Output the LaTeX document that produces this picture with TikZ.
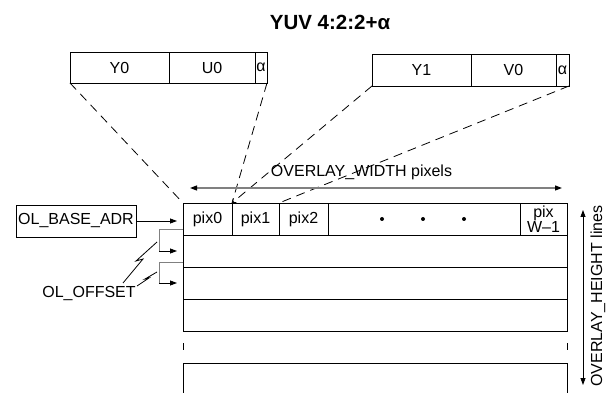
\documentclass[tikz,border=0pt]{standalone}
\usepackage{fontspec}
\setmainfont{Liberation Sans}
\usetikzlibrary{arrows.meta,positioning}

\begin{document}
\begin{tikzpicture}[x=1pt, y=-1pt,
    cell/.style={draw, line width=0.8pt, inner sep=0pt, outer sep=0pt,
                 minimum height=32pt, font=\fontsize{16}{14}\selectfont},
    lbl/.style={inner sep=0pt, font=\fontsize{16}{14}\selectfont},
    ln/.style={line width=0.8pt},
    map/.style={line width=0.8pt, dash pattern=on 9pt off 6pt},
    arr/.style={line width=0.8pt, -{Triangle[length=7pt,width=5pt]}},
    dim/.style={line width=1.2pt, gray,
                {Triangle[length=7pt,width=5pt,color=black]}-{Triangle[length=7pt,width=5pt,color=black]}},
  ]
  \useasboundingbox (0,0) rectangle (606,393);

  %% Title
  \node[font=\fontsize{20.5}{22}\selectfont\bfseries] (title) at (330,22) {YUV 4:2:2+α};

  %% Word Y0 U0 alpha
  \node[cell, minimum width=99pt, minimum height=31pt] (y0) at (119.5,67.5) {Y0};
  \node[cell, minimum width=86pt, minimum height=31pt, right=0pt of y0] (u0) {U0};
  \node[cell, minimum width=12pt, minimum height=31pt, right=0pt of u0] (a0) {α};

  %% Word Y1 V0 alpha
  \node[cell, minimum width=99pt] (y1) at (421.5,70) {Y1};
  \node[cell, minimum width=85pt, right=0pt of y1] (v0) {V0};
  \node[cell, minimum width=13pt, right=0pt of v0] (a1) {α};

  %% First line of pixels
  \node[cell, minimum width=49pt] (pix0) at (207.5,219) {pix0};
  \node[cell, minimum width=47pt, right=0pt of pix0] (pix1) {pix1};
  \node[cell, minimum width=49pt, right=0pt of pix1] (pix2) {pix2};
  \node[cell, minimum width=192pt, right=0pt of pix2] (dots) {};
  \node[cell, minimum width=47pt, right=0pt of dots, align=center] (pixw) {pix\\W–1};
  \fill ([xshift=-42pt]dots.center) circle (2pt);
  \fill ([xshift=-1pt]dots.center) circle (2pt);
  \fill ([xshift=40pt]dots.center) circle (2pt);

  %% Further lines
  \node[cell, minimum width=384pt, anchor=north west] (row1) at (pix0.south west) {};
  \node[cell, minimum width=384pt, anchor=north west] (row2) at (row1.south west) {};
  \node[cell, minimum width=384pt, anchor=north west] (row3) at (row2.south west) {};
  \draw[ln] ([yshift=-12pt]row3.south west) -- ++(0,7);
  \draw[ln] ([yshift=-12pt]row3.south east) -- ++(0,7);
  \draw[ln] ([yshift=-32pt]row3.south west) coordinate (r5w) -- ++(0,32);
  \draw[ln] ([yshift=-32pt]row3.south east) coordinate (r5e) -- ++(0,32);
  \draw[ln] (r5w) -- (r5e);

  %% Mapping of words to pixels
  \draw[map] (y0.south west) -- (pix0.north west);
  \draw[map] (a0.south east) -- (pix1.north west);
  \draw[map, -{Straight Barb[length=3pt,width=5pt]}] (y1.south west) -- (pix1.north west);
  \draw[map] (a1.south east) -- (pix2.north west);

  %% Overlay width
  \coordinate (wl) at (190,188);
  \coordinate (wr) at (562,188);
  \draw[dim] (wl) -- (wr);
  \node[lbl] (wlbl) at (361.5,172) {OVERLAY\_WIDTH pixels};

  %% Overlay height
  \coordinate (ht) at (583,210);
  \coordinate (hb) at (583,385);
  \draw[line width=0.8pt, {Triangle[length=7pt,width=5pt]}-{Triangle[length=7pt,width=5pt]}] (ht) -- (hb);
  \node[lbl, rotate=90] (hlbl) at (598,296) {OVERLAY\_HEIGHT lines};

  %% Base address
  \node[cell, minimum width=120pt] (base) at (76,221) {OL\_BASE\_ADR};
  \draw[arr, shorten >=6pt] (base.east) -- (base.east -| pix0.west);

  %% Line offsets
  \coordinate (o1t) at (159,229);
  \coordinate (o1b) at (159,251);
  \coordinate (o2t) at (159,262);
  \coordinate (o2b) at (159,283);
  \draw[ln, gray] (o1t -| pix0.west) -- (o1t) -- (o1b);
  \draw[arr, shorten >=6pt] (o1b) -- (o1b -| pix0.west);
  \draw[ln, gray] (o2t -| pix0.west) -- (o2t) -- (o2b);
  \draw[arr, shorten >=6pt] (o2b) -- (o2b -| pix0.west);

  \node[lbl] (ofs) at (89,294) {OL\_OFFSET};
  \coordinate (z1) at (123,283);
  \coordinate (z2) at (137,286);
  \draw[ln] (z1) -- ++(20,-24) -- ++(-7,2) -- ++(21,-19);
  \draw[ln] (z2) -- ++(12,-8) -- ++(-4,1) -- ++(12,-7);
\end{tikzpicture}
\end{document}
